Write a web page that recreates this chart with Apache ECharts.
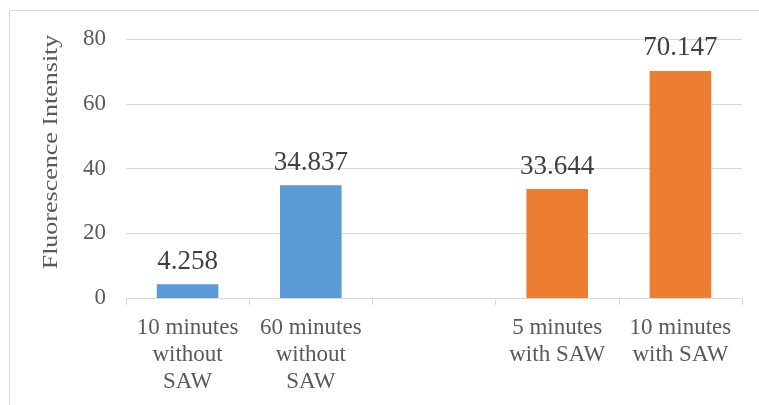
<!DOCTYPE html>
<html>
<head>
<meta charset="utf-8">
<script src="https://cdn.jsdelivr.net/npm/echarts@6/dist/echarts.min.js"></script>
<style>
  html, body { margin: 0; padding: 0; background: #fff; }
  #chart { width: 759px; height: 405px; }
</style>
</head>
<body>
<div id="chart"></div>
<script>
// Fluorescence intensity by treatment condition
const categories = [
  '10 minutes\nwithout\nSAW',
  '60 minutes\nwithout\nSAW',
  '',
  '5 minutes\nwith SAW',
  '10 minutes\nwith SAW'
];
const withoutSAW = [4.258, 34.837, '-', '-', '-'];
const withSAW = ['-', '-', '-', 33.644, 70.147];
const yTicks = { min: 0, max: 80, interval: 20 };
const axisTitle = 'Fluorescence Intensity';

const FONT = '"Liberation Serif", "Times New Roman", serif';
const chart = echarts.init(document.getElementById('chart'));

const valueLabel = {
  show: true,
  position: 'top',
  distance: 9,
  fontFamily: FONT,
  fontSize: 27,
  color: '#404040',
  formatter: p => p.value.toFixed(3)
};

chart.setOption({
  animation: false,
  grid: { left: 126, right: 17, top: 39, bottom: 107 },
  graphic: [
    {
      type: 'rect',
      shape: { x: 9.5, y: 10.5, width: 800, height: 500 },
      style: { fill: 'none', stroke: '#D9D9D9', lineWidth: 1 },
      silent: true
    },
    {
      type: 'text',
      x: 52,
      y: 152,
      rotation: Math.PI / 2,
      scaleX: 1.3,
      style: {
        text: axisTitle,
        fontFamily: FONT,
        fontSize: 20,
        fill: '#595959',
        align: 'center',
        verticalAlign: 'middle'
      },
      silent: true
    }
  ],
  xAxis: {
    type: 'category',
    data: categories,
    axisLine: { lineStyle: { color: '#D9D9D9', width: 1 } },
    axisTick: { show: true, length: 7, lineStyle: { color: '#D9D9D9' } },
    axisLabel: {
      interval: 0,
      margin: 16,
      fontFamily: FONT,
      fontSize: 23,
      lineHeight: 27,
      color: '#595959'
    }
  },
  yAxis: {
    type: 'value',
    min: yTicks.min,
    max: yTicks.max,
    interval: yTicks.interval,
    axisLine: { show: false },
    axisTick: { show: false },
    splitLine: { lineStyle: { color: '#D9D9D9', width: 1 } },
    axisLabel: {
      margin: 20,
      fontFamily: FONT,
      fontSize: 23,
      color: '#595959'
    }
  },
  series: [
    {
      name: 'without SAW',
      type: 'bar',
      data: withoutSAW,
      barWidth: '50%',
      barGap: '-100%',
      itemStyle: { color: '#5B9BD5' },
      label: valueLabel
    },
    {
      name: 'with SAW',
      type: 'bar',
      data: withSAW,
      barWidth: '50%',
      barGap: '-100%',
      itemStyle: { color: '#ED7D31' },
      label: valueLabel
    }
  ]
});
</script>
</body>
</html>
